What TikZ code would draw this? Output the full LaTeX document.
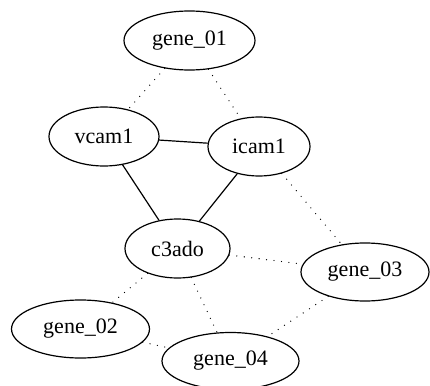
\documentclass[tikz,border=0pt]{standalone}
\usepackage{fontspec}
\setmainfont{Liberation Serif}
\usetikzlibrary{shapes.geometric}
\definecolor{ink}{HTML}{000000}
\tikzset{
  every node/.style={text=ink},
  gene/.style={ellipse, draw=ink, line width=1.2pt, inner sep=0pt,
    minimum width=#1, font=\fontsize{22}{26}\selectfont},
  gene/.default=110pt,
  link/.style={draw=ink, line width=1.2pt},
  hint/.style={draw=ink, line width=1.3pt, line cap=round, dash pattern=on 0pt off 7.5pt},
}

\begin{document}
\begin{tikzpicture}[x=1pt, y=-1pt]
  \useasboundingbox (0, 0) rectangle (430, 385);

  % ---------------------------------------------------------------- nodes
  \node[gene=131pt, minimum height=59pt] (gene01) at (189.5, 40.5) {gene\_01};
  \node[gene=110pt, minimum height=59pt] (vcam1) at (104, 136.5) {vcam1};
  \node[gene=102pt, minimum height=59pt] (icam1) at (259, 146.5) {icam1};
  \node[gene=105pt, minimum height=59pt] (c3ado) at (177.5, 248.5) {c3ado};
  \node[gene=128pt, minimum height=58pt] (gene03) at (365, 272) {gene\_03};
  \node[gene=138pt, minimum height=58pt] (gene02) at (80.5, 329) {gene\_02};
  \node[gene=137pt, minimum height=57pt] (gene04) at (230.5, 361) {gene\_04};

  % ---------------------------------------------------------------- solid links
  \draw[link] (vcam1) -- (icam1);
  \draw[link] (vcam1) -- (c3ado);
  \draw[link] (icam1) -- (c3ado);

  % ---------------------------------------------------------------- dotted links
  \foreach \a/\b in {gene01/vcam1, gene01/icam1, icam1/gene03, c3ado/gene03,
                     c3ado/gene02, c3ado/gene04, gene02/gene04, gene03/gene04} {
    \draw[hint] (\a) -- (\b);
  }

\end{tikzpicture}
\end{document}
